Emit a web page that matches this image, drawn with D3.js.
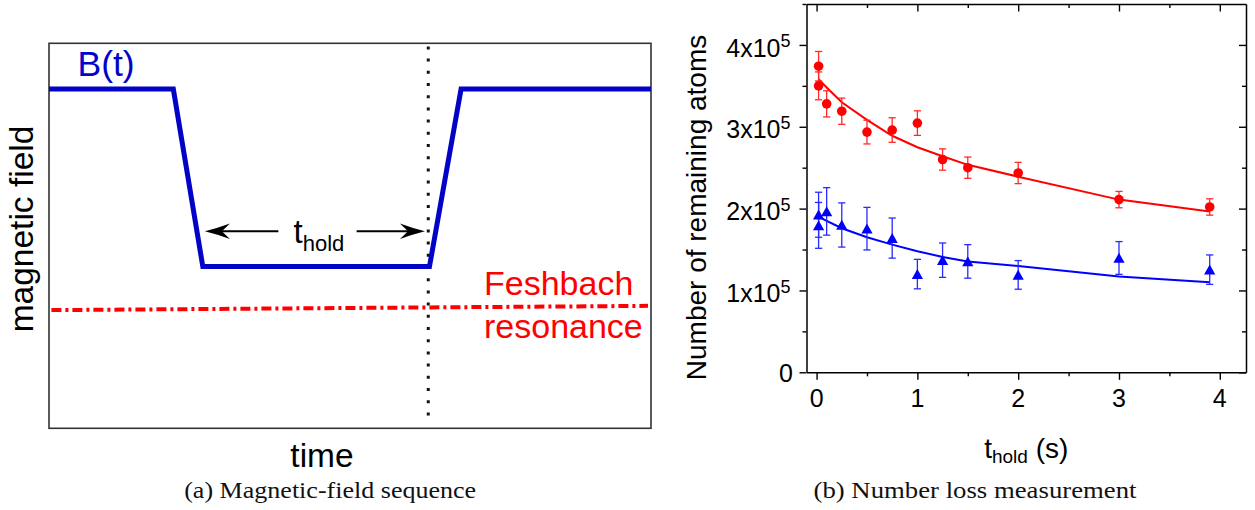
<!DOCTYPE html>
<html><head><meta charset="utf-8">
<script src="https://cdn.jsdelivr.net/npm/d3@7"></script>
<style>
html,body{margin:0;padding:0;background:#fff;}
svg{display:block;}
</style></head><body>
<svg id="fig" width="1255" height="510"></svg>
<script>
// ---- Panel (a): schematic field sequence (arbitrary units, 0..100) ----
const rampTime  = [0, 20.65, 25.55, 63.2, 68.45, 100];
const rampField = [88.1, 88.1, 42.0, 42.0, 88.1, 88.1];
const resonanceTime  = [0.4, 99.5];
const resonanceField = [30.7, 31.8];
const holdEndTime = 63.0;
const holdArrowLevel = 51.2;
const holdArrowLeft  = [25.9, 38.1];   // tip, tail
const holdArrowRight = [51.1, 62.45];  // tail, tip

// ---- Panel (b): remaining atom number vs hold time ----
const redTime  = [0.02, 0.02, 0.1, 0.25, 0.5, 0.75, 1.0, 1.25, 1.5, 2.0, 3.0, 3.9];
const redAtoms = [374000, 350000, 328000, 319000, 293500, 296000, 304500, 260000, 250000, 243500, 211000, 202000];
const redErr   = [18000, 17000, 16000, 16000, 14500, 15000, 15000, 13000, 13000, 13000, 10000, 10000];

const blueTime  = [0.02, 0.02, 0.1, 0.25, 0.5, 0.75, 1.0, 1.25, 1.5, 2.0, 3.0, 3.9];
const blueAtoms = [192500, 179500, 196600, 180000, 175500, 164000, 120000, 137000, 135500, 119000, 139700, 125400];
const blueErr   = [27500, 28000, 29000, 27000, 26000, 24500, 18000, 21000, 20500, 17500, 20000, 18000];

const fitTime = [0.02, 0.1, 0.25, 0.5, 0.75, 1.0, 1.25, 1.5, 2.0, 3.0, 3.9];
const redFit  = [358000, 348000, 330000, 308500, 289000, 275000, 264000, 253500, 239000, 211000, 196500];
const blueFit = [190000, 185000, 176000, 165000, 156000, 148000, 141000, 135500, 130000, 117000, 110000];

const xMajor = [0, 1, 2, 3, 4];
const xMinor = [0.5, 1.5, 2.5, 3.5];
const yMajor = [0, 100000, 200000, 300000, 400000];
const yMinor = [50000, 150000, 250000, 350000, 450000];

const SANS = "'Liberation Sans', Arial, Helvetica, sans-serif";
const SERIF = "'Liberation Serif', 'Times New Roman', serif";
const svg = d3.select("#fig");

// ================= Panel (a) =================
const ax = d3.scaleLinear().domain([0, 100]).range([49, 651]);
const ay = d3.scaleLinear().domain([0, 100]).range([428.3, 43.3]);
const pa = svg.append("g");

pa.append("rect")
  .attr("x", ax(0)).attr("y", ay(100))
  .attr("width", ax(100) - ax(0)).attr("height", ay(0) - ay(100))
  .attr("fill", "none").attr("stroke", "#333").attr("stroke-width", 1.6);

// end of hold marker
pa.append("line")
  .attr("x1", ax(holdEndTime)).attr("x2", ax(holdEndTime))
  .attr("y1", ay(99.2)).attr("y2", ay(1.6))
  .attr("stroke", "#111").attr("stroke-width", 3)
  .attr("stroke-dasharray", "3,9.2");

// Feshbach resonance level
pa.append("line")
  .attr("x1", ax(resonanceTime[0])).attr("x2", ax(resonanceTime[1]))
  .attr("y1", ay(resonanceField[0])).attr("y2", ay(resonanceField[1]))
  .attr("stroke", "#ff0000").attr("stroke-width", 4)
  .attr("stroke-dasharray", "10,4,3,4");

// field ramp B(t)
const rampLine = d3.line().x(d => ax(d[0])).y(d => ay(d[1]));
pa.append("path")
  .attr("d", rampLine(d3.zip(rampTime, rampField)))
  .attr("fill", "none").attr("stroke", "#0303c8").attr("stroke-width", 5)
  .attr("stroke-linejoin", "miter");

// hold-time arrows
function arrowHead(tipX, tipY, dir) {
  const p = "M0,0 Q-12,-3 -25,-7.8 Q-20,-3 -17,0 Q-20,3 -25,7.8 Q-12,3 0,0 Z";
  pa.append("path").attr("d", p)
    .attr("transform", `translate(${tipX},${tipY}) scale(${dir},1)`)
    .attr("fill", "#000");
}
const arrY = ay(holdArrowLevel);
pa.append("line").attr("x1", ax(holdArrowLeft[0]) + 10).attr("x2", ax(holdArrowLeft[1]))
  .attr("y1", arrY).attr("y2", arrY).attr("stroke", "#000").attr("stroke-width", 2);
arrowHead(ax(holdArrowLeft[0]), arrY, -1);
pa.append("line").attr("x1", ax(holdArrowRight[0])).attr("x2", ax(holdArrowRight[1]) - 10)
  .attr("y1", arrY).attr("y2", arrY).attr("stroke", "#000").attr("stroke-width", 2);
arrowHead(ax(holdArrowRight[1]), arrY, 1);

const th = pa.append("text").attr("x", 293.5).attr("y", 243.3)
  .attr("font-family", SANS).attr("fill", "#000");
th.append("tspan").attr("font-size", 33).text("t");
th.append("tspan").attr("font-size", 22).attr("dy", 7.7).text("hold");

pa.append("text").attr("x", 77.5).attr("y", 75.5)
  .attr("font-family", SANS).attr("font-size", 35.5).attr("fill", "#0303c8").text("B(t)");

pa.append("text").attr("x", 484).attr("y", 295)
  .attr("font-family", SANS).attr("font-size", 34).attr("fill", "#ff0000").text("Feshbach");
pa.append("text").attr("x", 484).attr("y", 337.7)
  .attr("font-family", SANS).attr("font-size", 34).attr("fill", "#ff0000").text("resonance");

pa.append("text")
  .attr("transform", "translate(32.5,229) rotate(-90)")
  .attr("text-anchor", "middle")
  .attr("font-family", SANS).attr("font-size", 33.5)
  .attr("fill", "#000").text("magnetic field");

pa.append("text").attr("x", 322).attr("y", 466.7).attr("text-anchor", "middle")
  .attr("font-family", SANS).attr("font-size", 33.5).attr("fill", "#000").text("time");

svg.append("text").attr("x", 330.2).attr("y", 498.3).attr("text-anchor", "middle")
  .attr("font-family", SERIF).attr("font-size", 23)
  .attr("textLength", 292).attr("lengthAdjust", "spacingAndGlyphs")
  .attr("fill", "#111").text("(a) Magnetic-field sequence");

// ================= Panel (b) =================
const x = d3.scaleLinear().domain([-0.1, 4.26]).range([806.5, 1246]);
const y = d3.scaleLinear().domain([0, 450000]).range([372.3, 4]);
const pb = svg.append("g");

function styleAxis(g) {
  g.selectAll("path.domain").attr("stroke", "#000").attr("stroke-width", 1.5);
  g.selectAll(".tick line").attr("stroke", "#000").attr("stroke-width", 1.4);
  g.selectAll(".tick text").remove();
  return g;
}
const yB = y(0), yT = y(450000), xL = x(-0.1), xR = x(4.26);

// bottom axis (outward ticks)
styleAxis(pb.append("g").attr("transform", `translate(0,${yB})`)
  .call(d3.axisBottom(x).tickValues(xMajor).tickSize(7.5).tickSizeOuter(0).tickFormat("")));
styleAxis(pb.append("g").attr("transform", `translate(0,${yB})`)
  .call(d3.axisBottom(x).tickValues(xMinor).tickSize(4).tickSizeOuter(0).tickFormat("")))
  .select("path.domain").remove();
// top axis (inward ticks)
styleAxis(pb.append("g").attr("transform", `translate(0,${yT})`)
  .call(d3.axisTop(x).tickValues(xMajor).tickSize(-7.5).tickSizeOuter(0).tickFormat("")));
styleAxis(pb.append("g").attr("transform", `translate(0,${yT})`)
  .call(d3.axisTop(x).tickValues(xMinor).tickSize(-4).tickSizeOuter(0).tickFormat("")))
  .select("path.domain").remove();
// left axis (outward ticks)
styleAxis(pb.append("g").attr("transform", `translate(${xL},0)`)
  .call(d3.axisLeft(y).tickValues(yMajor).tickSize(7).tickSizeOuter(0).tickFormat("")));
styleAxis(pb.append("g").attr("transform", `translate(${xL},0)`)
  .call(d3.axisLeft(y).tickValues(yMinor).tickSize(4).tickSizeOuter(0).tickFormat("")))
  .select("path.domain").remove();
// right axis (inward ticks)
styleAxis(pb.append("g").attr("transform", `translate(${xR},0)`)
  .call(d3.axisRight(y).tickValues(yMajor).tickSize(-7).tickSizeOuter(0).tickFormat("")));
styleAxis(pb.append("g").attr("transform", `translate(${xR},0)`)
  .call(d3.axisRight(y).tickValues(yMinor.slice(0, 4)).tickSize(-4).tickSizeOuter(0).tickFormat("")))
  .select("path.domain").remove();

// x tick labels
pb.selectAll("text.xl").data(xMajor).join("text")
  .attr("x", d => x(d)).attr("y", 406.7).attr("text-anchor", "middle")
  .attr("font-family", SANS).attr("font-size", 25).attr("fill", "#000")
  .text(d => d);

// y tick labels with powers of ten
yMajor.forEach(v => {
  if (v === 0) {
    pb.append("text").attr("x", 793).attr("y", y(v) + 9.2).attr("text-anchor", "end")
      .attr("font-family", SANS).attr("font-size", 25).attr("fill", "#000").text("0");
  } else {
    const t = pb.append("text").attr("x", 790.5).attr("y", y(v) + 11.7).attr("text-anchor", "end")
      .attr("font-family", SANS).attr("font-size", 25).attr("fill", "#000");
    t.append("tspan").text(`${v / 1e5}x10`);
    t.append("tspan").attr("font-size", 18).attr("dy", -9.5).text("5");
  }
});

// axis titles
pb.append("text")
  .attr("transform", "translate(706,207.5) rotate(-90)")
  .attr("text-anchor", "middle")
  .attr("font-family", SANS).attr("font-size", 28).attr("fill", "#000")
  .text("Number of remaining atoms");

const xt = pb.append("text").attr("x", (xL + xR) / 2).attr("y", 458.3).attr("text-anchor", "middle")
  .attr("font-family", SANS).attr("fill", "#000");
xt.append("tspan").attr("font-size", 28).text("t");
xt.append("tspan").attr("font-size", 19).attr("dy", 4.5).text("hold");
xt.append("tspan").attr("font-size", 28).attr("dy", -4.5).text(" (s)");

// fit curves
const fitLine = d3.line().x(d => x(d[0])).y(d => y(d[1]));
pb.append("path").attr("d", fitLine(d3.zip(fitTime, redFit)))
  .attr("fill", "none").attr("stroke", "#ff0000").attr("stroke-width", 2);
pb.append("path").attr("d", fitLine(d3.zip(fitTime, blueFit)))
  .attr("fill", "none").attr("stroke", "#0000ff").attr("stroke-width", 2);

// error bars
function errorBars(ts, vs, es, color) {
  const rows = d3.zip(ts, vs, es);
  const g = pb.append("g").attr("stroke", color).attr("stroke-width", 1.3).attr("fill", "none");
  g.selectAll("line.v").data(rows).join("line")
    .attr("x1", d => x(d[0])).attr("x2", d => x(d[0]))
    .attr("y1", d => y(d[1] + d[2])).attr("y2", d => y(d[1] - d[2]));
  g.selectAll("line.top").data(rows).join("line")
    .attr("x1", d => x(d[0]) - 3.6).attr("x2", d => x(d[0]) + 3.6)
    .attr("y1", d => y(d[1] + d[2])).attr("y2", d => y(d[1] + d[2]));
  g.selectAll("line.bot").data(rows).join("line")
    .attr("x1", d => x(d[0]) - 3.6).attr("x2", d => x(d[0]) + 3.6)
    .attr("y1", d => y(d[1] - d[2])).attr("y2", d => y(d[1] - d[2]));
}
errorBars(redTime, redAtoms, redErr, "#ff2a2a");
errorBars(blueTime, blueAtoms, blueErr, "#2a2aff");

// markers
pb.append("g").selectAll("circle").data(d3.zip(redTime, redAtoms)).join("circle")
  .attr("cx", d => x(d[0])).attr("cy", d => y(d[1])).attr("r", 4.8)
  .attr("fill", "#ff0000");
pb.append("g").selectAll("path").data(d3.zip(blueTime, blueAtoms)).join("path")
  .attr("d", "M0,-5.2 L5.6,4.8 L-5.6,4.8 Z")
  .attr("transform", d => `translate(${x(d[0])},${y(d[1])})`)
  .attr("fill", "#0000ff");

svg.append("text").attr("x", 975).attr("y", 498.3).attr("text-anchor", "middle")
  .attr("font-family", SERIF).attr("font-size", 23)
  .attr("textLength", 323).attr("lengthAdjust", "spacingAndGlyphs")
  .attr("fill", "#111").text("(b) Number loss measurement");
</script>
</body></html>
